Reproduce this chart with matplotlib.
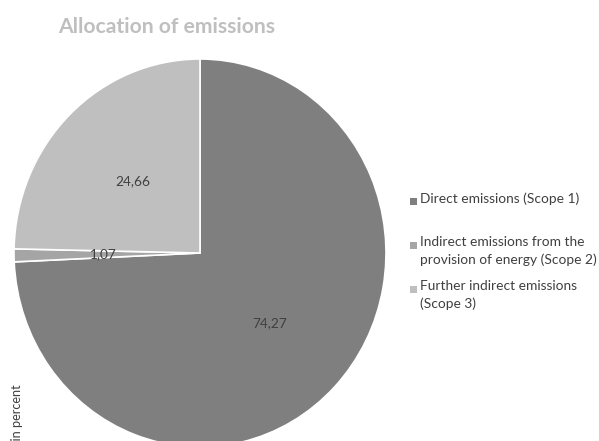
import matplotlib
matplotlib.use("Agg")
import matplotlib.pyplot as plt
from matplotlib.patches import Rectangle

plt.rcParams['font.family'] = ['Lato', 'DejaVu Sans']

# data
categories = ['Direct emissions (Scope 1)',
              'Indirect emissions from the\nprovision of energy (Scope 2)',
              'Further indirect emissions\n(Scope 3)']
values = [74.27, 1.07, 24.66]
colors = ['#7f7f7f', '#a5a5a5', '#bfbfbf']

W, H = 599, 441
fig = plt.figure(figsize=(W / 100, H / 100), dpi=100)

# pie area (slightly taller than wide like the original)
ax = fig.add_axes([14 / W, 1 - 447 / H, 372 / W, 388 / H])
wedges, texts, autotexts = ax.pie(
    values, colors=colors, startangle=90, counterclock=False,
    wedgeprops=dict(edgecolor='white', linewidth=1.2),
    autopct=lambda p: f'{p:.2f}'.replace('.', ','),
    pctdistance=0.52, textprops=dict(color='#404040', fontsize=9.8))
ax.set_aspect('auto')
ax.set_xlim(-1.0, 1.0)
ax.set_ylim(-1.0, 1.0)
ax.axis('off')

fig.text(167 / W, 1 - 27 / H, 'Allocation of emissions', ha='center', va='center',
         fontsize=15.2, fontweight='bold', color='#bfbfbf')

# axis title runs off the bottom edge in the original chart
fig.text(17 / W, 1 - 384 / H, 'Values in percent', rotation=90, ha='center', va='top',
         fontsize=9.2, color='#404040')

# legend, marker aligned with first line like Excel
leg_y = [201, 245, 289]
for lab, col, y in zip(categories, colors, leg_y):
    fig.patches.append(Rectangle((410 / W, 1 - (y + 3.5) / H), 7 / W, 7 / H,
                                 transform=fig.transFigure, facecolor=col, edgecolor='none'))
    fig.text(420 / W, 1 - (y - 8.5) / H, lab, ha='left', va='top', fontsize=9.9,
             color='#404040', linespacing=1.5)

fig.savefig('out.png', dpi=100)
